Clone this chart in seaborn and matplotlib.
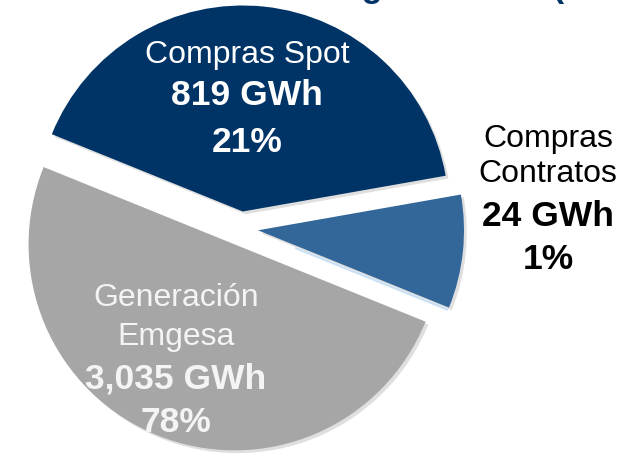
import matplotlib
matplotlib.use("Agg")
import matplotlib.pyplot as plt
import matplotlib.patheffects as pe
import numpy as np
import seaborn as sns

# Data
categories = ["Compras Spot", "Generación\nEmgesa", "Compras\nContratos"]
energy_gwh = [819, 3035, 24]
share_pct = [21, 78, 1]
# the slide does not draw the slices to scale, these are the shares of the
# circle as measured on the picture
slice_share = [41.1, 50.0, 8.9]
colors = ["#003366", "#A6A6A6", "#336699"]
text_colors = ["white", "#F4F4F4", "black"]

sns.set_theme(style="white")
plt.rcParams["font.family"] = ["Liberation Sans", "DejaVu Sans"]

W, H = 633, 455
fig = plt.figure(figsize=(W / 100, H / 100), dpi=100)
ax = fig.add_axes([0, 0, 1, 1])

wedges, _ = ax.pie(
    slice_share,
    colors=colors,
    startangle=10,
    explode=[0.083] * 3,
    radius=1,
    wedgeprops=dict(linewidth=0),
)
for w in wedges:
    w.set_path_effects([
        pe.SimplePatchShadow(offset=(2, -2), shadow_rgbFace="#808080", alpha=0.25),
        pe.Normal(),
    ])

# thin light highlight along the lower edge of the small slice
bw = wedges[2]
t1 = np.deg2rad(bw.theta1)
d = np.array([np.cos(t1), np.sin(t1)])
nrm = np.array([np.sin(t1), -np.cos(t1)]) * 0.012
c = np.array(bw.center)
p0 = c + 0.2 * d + nrm
p1 = c + 1.0 * d + nrm
ax.plot([p0[0], p1[0]], [p0[1], p1[1]], color="#C9E0F7", lw=1.5, solid_capstyle="butt")

# pixel -> data mapping (centre of the pie at 241, 228.5 px, radius 206 px)
cx, cy, rp = 241, 228.5, 206
ax.set_xlim(-cx / rp, (W - cx) / rp)
ax.set_ylim(-(H - cy) / rp, cy / rp)
ax.set_aspect("auto")
ax.axis("off")

# label layout: x centre and baselines (px)
label_x = [247, 176, 548]
label_base = [[63, 105, 152], [306, 345, 388, 432], [147, 182, 226, 269]]

for i in range(3):
    lines = [(s, "normal", 23) for s in categories[i].split("\n")]
    lines += [(f"{energy_gwh[i]:,} GWh", "bold", 25.5), (f"{share_pct[i]}%", "bold", 25.5)]
    for (txt, wt, fs), yb in zip(lines, label_base[i]):
        fig.text(label_x[i] / W, 1 - yb / H, txt, ha="center", va="baseline",
                 fontsize=fs, fontweight=wt, color=text_colors[i])

# title sits mostly above the visible area
fig.text(97 / W, 1 + 3 / H, "Fuentes de Energía 2T 2011 (GWh)", ha="left",
         va="baseline", fontsize=24.5, fontweight="bold", color="#003366")

fig.savefig("out.png", dpi=100)
